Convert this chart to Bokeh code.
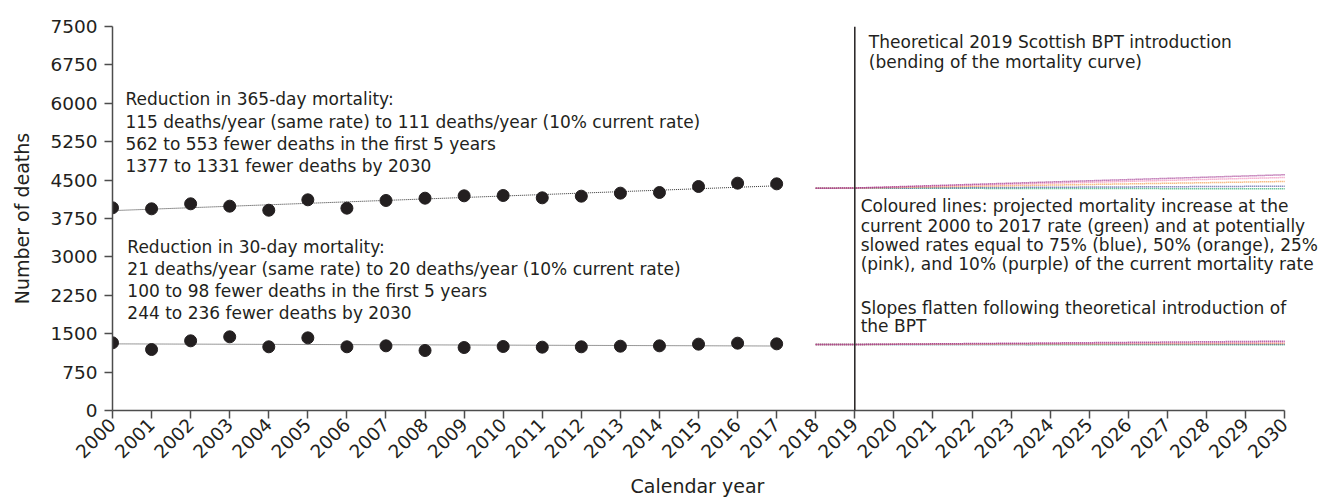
import math
import numpy as np
from bokeh.plotting import figure
from bokeh.models import FixedTicker, Span, Label, Title
from bokeh.embed import file_html
from bokeh.resources import INLINE

# ---------------- data ----------------
years = list(range(2000, 2018))
deaths_365 = [3959, 3939, 4037, 3991, 3912, 4115, 3952, 4102, 4147,
              4193, 4199, 4154, 4186, 4245, 4258, 4375, 4440, 4427]
deaths_30 = [1322, 1191, 1361, 1439, 1244, 1419, 1244, 1263, 1172,
             1230, 1250, 1237, 1244, 1256, 1263, 1296, 1315, 1302]

proj_years = [2018, 2019, 2030]
proj_labels = ["green", "blue", "orange", "pink", "purple"]
proj_colors = ["#2fae72", "#5b5ea6", "#f39c4a", "#ee82b4", "#9b2a8a"]
proj_365_green = [4340, 4342, 4330]
proj_365_blue = [4340, 4343, 4381]
proj_365_orange = [4340, 4344, 4473]
proj_365_pink = [4340, 4345, 4551]
proj_365_purple = [4340, 4346, 4604]
proj_30_green = [1289, 1289, 1283]
proj_30_blue = [1289, 1289, 1295]
proj_30_orange = [1289, 1290, 1309]
proj_30_pink = [1289, 1290, 1328]
proj_30_purple = [1289, 1290, 1354]

y_ticks = [0, 750, 1500, 2250, 3000, 3750, 4500, 5250, 6000, 6750, 7500]
x_ticks = list(range(2000, 2031))

text_365 = ["Reduction in 365-day mortality:",
            "115 deaths/year (same rate) to 111 deaths/year (10% current rate)",
            "562 to 553 fewer deaths in the first 5 years",
            "1377 to 1331 fewer deaths by 2030"]
text_30 = ["Reduction in 30-day mortality:",
           "21 deaths/year (same rate) to 20 deaths/year (10% current rate)",
           "100 to 98 fewer deaths in the first 5 years",
           "244 to 236 fewer deaths by 2030"]
text_bpt = ["Theoretical 2019 Scottish BPT introduction",
            "(bending of the mortality curve)"]
text_col = ["Coloured lines: projected mortality increase at the",
            "current 2000 to 2017 rate (green) and at potentially",
            "slowed rates equal to 75% (blue), 50% (orange), 25%",
            "(pink), and 10% (purple) of the current mortality rate"]
text_slope = ["Slopes flatten following theoretical introduction of",
              "the BPT"]

# ---------------- figure ----------------
FONT = "DejaVu Sans"
INK = "#231f20"

# frame runs a little past 2030 so the right-hand notes are not clipped;
# the x axis itself is bounded to 2000-2030
p = figure(width=1320, height=504, x_range=(2000, 2030.92), y_range=(0, 7500),
           output_backend="svg", toolbar_location=None,
           min_border_left=112, min_border_right=0,
           min_border_top=26, min_border_bottom=94)
p.outline_line_color = None
p.xgrid.visible = False
p.ygrid.visible = False
p.background_fill_color = "white"
p.border_fill_color = "white"

for ax in (p.xaxis[0], p.yaxis[0]):
    ax.axis_line_color = "#4d4d4d"
    ax.axis_line_width = 1.5
    ax.major_tick_line_color = "#4d4d4d"
    ax.major_tick_line_width = 1.5
    ax.major_tick_out = 8
    ax.major_tick_in = 0
    ax.minor_tick_line_color = None
    ax.major_label_text_font = FONT
    ax.major_label_text_font_size = "18.5px"
    ax.major_label_text_color = INK
    ax.axis_label_text_font = FONT
    ax.axis_label_text_font_size = "19px"
    ax.axis_label_text_font_style = "normal"
    ax.axis_label_text_color = INK

p.xaxis.bounds = (2000, 2030)
p.xaxis.ticker = FixedTicker(ticks=x_ticks)
p.yaxis.ticker = FixedTicker(ticks=y_ticks)
p.xaxis.major_label_orientation = math.pi / 4
p.xaxis.major_label_standoff = 3
p.yaxis.axis_label = "Number of deaths"
p.yaxis.axis_label_standoff = 14
p.yaxis.major_label_standoff = 7

# x-axis title, centred under the 2000-2030 axis (not under the wider frame)
p.add_layout(Title(text="Calendar year", align="left", offset=518, standoff=13,
                   text_font=FONT, text_font_size="19px", text_font_style="normal",
                   text_color=INK), "below")

# trend lines (least squares on observed points)
yr = np.array(years, dtype=float)
for series in (deaths_365, deaths_30):
    k, b = np.polyfit(yr, np.array(series, dtype=float), 1)
    p.line([yr[0], yr[-1]], [k * yr[0] + b, k * yr[-1] + b],
           line_color="#333333", line_width=1, line_dash="1 1")

# projection lines
proj_365 = [proj_365_green, proj_365_blue, proj_365_orange, proj_365_pink, proj_365_purple]
proj_30 = [proj_30_green, proj_30_blue, proj_30_orange, proj_30_pink, proj_30_purple]
for vals, col in zip(proj_365, proj_colors):
    p.line(proj_years, vals, line_color=col, line_width=1.5, line_dash="1 1")
for vals, col in zip(proj_30, proj_colors):
    p.line(proj_years, vals, line_color=col, line_width=1.5, line_dash="1 1")

# observed points
p.scatter(years, deaths_365, size=12, color=INK)
p.scatter(years, deaths_30, size=12, color=INK)

# 2019 introduction line
p.add_layout(Span(location=2019, dimension="height", line_color=INK, line_width=1.5))

# annotations: one label per line, baselines in data units
SHIFT = 107
def note(x, baselines, lines):
    for yb, txt in zip(baselines, lines):
        p.add_layout(Label(x=x, y=yb + SHIFT, text=txt, text_font=FONT, text_font_size="17px",
                           text_color=INK, text_align="left", text_baseline="alphabetic"))

note(2000.33, [5977, 5521, 5092, 4668], text_365)
note(2000.38, [3092, 2656, 2232, 1797], text_30)
note(2019.36, [7096, 6705], text_bpt)
note(2019.15, [3880, 3505, 3130, 2755], text_col)
note(2019.15, [1900, 1545], text_slope)

open("out.html", "w").write(file_html(p, INLINE))
